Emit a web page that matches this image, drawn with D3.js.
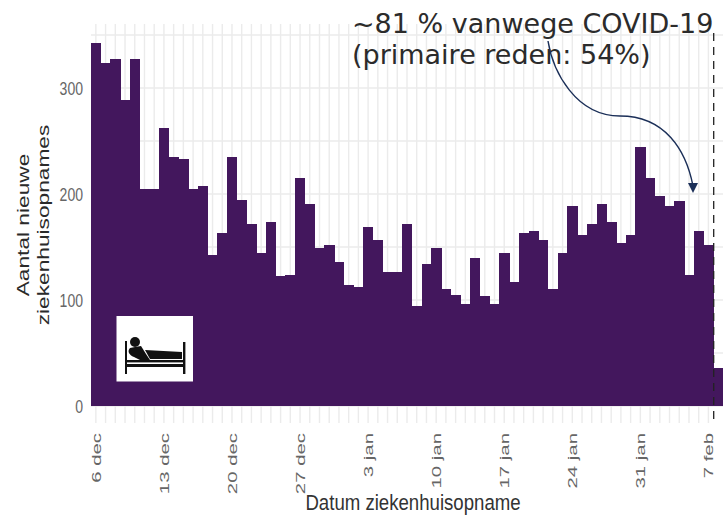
<!DOCTYPE html>
<html><head><meta charset="utf-8">
<script src="https://cdnjs.cloudflare.com/ajax/libs/d3/7.8.5/d3.min.js"></script>
<style>html,body{margin:0;padding:0;background:#fff}svg{display:block}text{font-family:"Liberation Sans",Arial,sans-serif}</style>
</head><body><svg id="c" width="723" height="516"></svg>
<script>
const startDate = "2020-12-06";
const admissions = [342,324,327,289,327,205,205,262,235,233,205,208,142,163,235,194,172,144,174,123,124,215,191,149,152,136,114,112,169,157,126,126,172,94,134,149,110,105,96,140,104,96,144,117,163,165,157,110,144,189,161,172,191,174,154,161,244,215,198,189,193,124,165,152,36];
const yTicks = [0,100,200,300];
const yGrid = [0,50,100,150,200,250,300,350];
const xTickIdx = [0,7,14,21,28,35,42,49,56,63];
const xTickLabels = ["6 dec","13 dec","20 dec","27 dec","3 jan","10 jan","17 jan","24 jan","31 jan","7 feb"];
const yTitle = ["Aantal nieuwe","ziekenhuisopnames"];
const xTitle = "Datum ziekenhuisopname";
const notes = ["~81 % vanwege COVID-19","(primaire reden: 54%)"];

const svg = d3.select("#c");
const idx = d3.range(admissions.length);
const x = d3.scaleBand().domain(idx).range([91,723]).padding(0);
const y = d3.scaleLinear().domain([0,350]).range([406,35]);
const panelTop = 24, panelBottom = 423;
const grid = "#ebebeb";

// grid
svg.append("g").selectAll("line").data(idx.slice(0,64)).join("line")
  .attr("x1",d=>x(d)+x.bandwidth()/2).attr("x2",d=>x(d)+x.bandwidth()/2)
  .attr("y1",panelTop).attr("y2",panelBottom)
  .attr("stroke",grid).attr("stroke-width",1.4);
svg.append("g").selectAll("line").data(yGrid).join("line")
  .attr("x1",91).attr("x2",723).attr("y1",d=>y(d)).attr("y2",d=>y(d))
  .attr("stroke",grid).attr("stroke-width",1.6);

// bars
svg.append("g").attr("shape-rendering","crispEdges").selectAll("rect").data(admissions).join("rect")
  .attr("x",(d,i)=>x(i)).attr("width",x.bandwidth()+0.5)
  .attr("y",d=>y(d)).attr("height",d=>y(0)-y(d)).attr("fill","#43175d");

// y axis
const yAxis = d3.axisLeft(y).tickValues(yTicks).tickSize(0).tickFormat(d3.format("d"));
const gy = svg.append("g").attr("transform","translate(83,0)").call(yAxis);
gy.select(".domain").remove();
gy.selectAll("text").attr("x",0).attr("dy",null).attr("y",0)
  .attr("font-size",18).attr("fill","#666")
  .attr("text-anchor","end")
  .attr("transform","translate(0,6.5) scale(0.78,1)");

// x labels
svg.append("g").selectAll("text").data(xTickIdx).join("text")
  .attr("transform",d=>`translate(${x(d)+x.bandwidth()/2+5},433) rotate(-90) scale(1.7,1)`)
  .attr("text-anchor","end").attr("font-size",12).attr("fill","#666")
  .text((d,i)=>xTickLabels[i]);

// titles
svg.append("g").selectAll("text").data(yTitle).join("text")
  .attr("transform",(d,i)=>`translate(${29+i*20},225) rotate(-90) scale(1.42,1)`)
  .attr("text-anchor","middle").attr("font-size",16).attr("fill","#2a2a2a").text(d=>d);
svg.append("text").attr("transform","translate(413,510) scale(0.81,1)")
  .attr("text-anchor","middle").attr("font-size",23).attr("fill","#333").text(xTitle);

// reference line
svg.append("line").attr("x1",713.7).attr("x2",713.7).attr("y1",33).attr("y2",423)
  .attr("stroke","#222").attr("stroke-width",1.3).attr("stroke-dasharray","8 6");

// icon
const ic = svg.append("g");
ic.append("rect").attr("x",116.5).attr("y",316).attr("width",76.5).attr("height",65.5).attr("fill","#fff");
ic.append("rect").attr("x",125).attr("y",341).attr("width",2).attr("height",33).attr("fill","#111");
ic.append("rect").attr("x",183).attr("y",342).attr("width",2.4).attr("height",32).attr("fill","#111");
ic.append("rect").attr("x",127).attr("y",360).attr("width",56).attr("height",2.4).attr("fill","#111");
ic.append("rect").attr("x",127).attr("y",364).attr("width",56).attr("height",3).attr("fill","#111");
ic.append("path").attr("fill","#111").attr("d","M145 350 L182 352 L182 359 L150 359 Z");
ic.append("circle").attr("cx",135).attr("cy",342).attr("r",5).attr("fill","#111");
ic.append("path").attr("fill","#111").attr("d","M130 348 C127 351 129 355 134 357 L140 360 L150 360 L146 354 L141 346 L135 347 Z");

// annotation
svg.append("g").selectAll("text").data(notes).join("text")
  .attr("x",352).attr("y",(d,i)=>i?64:32.5)
  .style("font-family","DejaVu Sans")
  .attr("font-size",27).attr("fill","#2b2b2b").text(d=>d);

// arrow
svg.append("path").attr("fill","none").attr("stroke","#1b2f58").attr("stroke-width",1.4)
  .attr("d","M548 41 C553 72 576 116 620 116 C665 116 686 150 693 186");
svg.append("path").attr("fill","#1b2f58").attr("d","M688 183 L698 183 L693 193 Z");
</script></body></html>
